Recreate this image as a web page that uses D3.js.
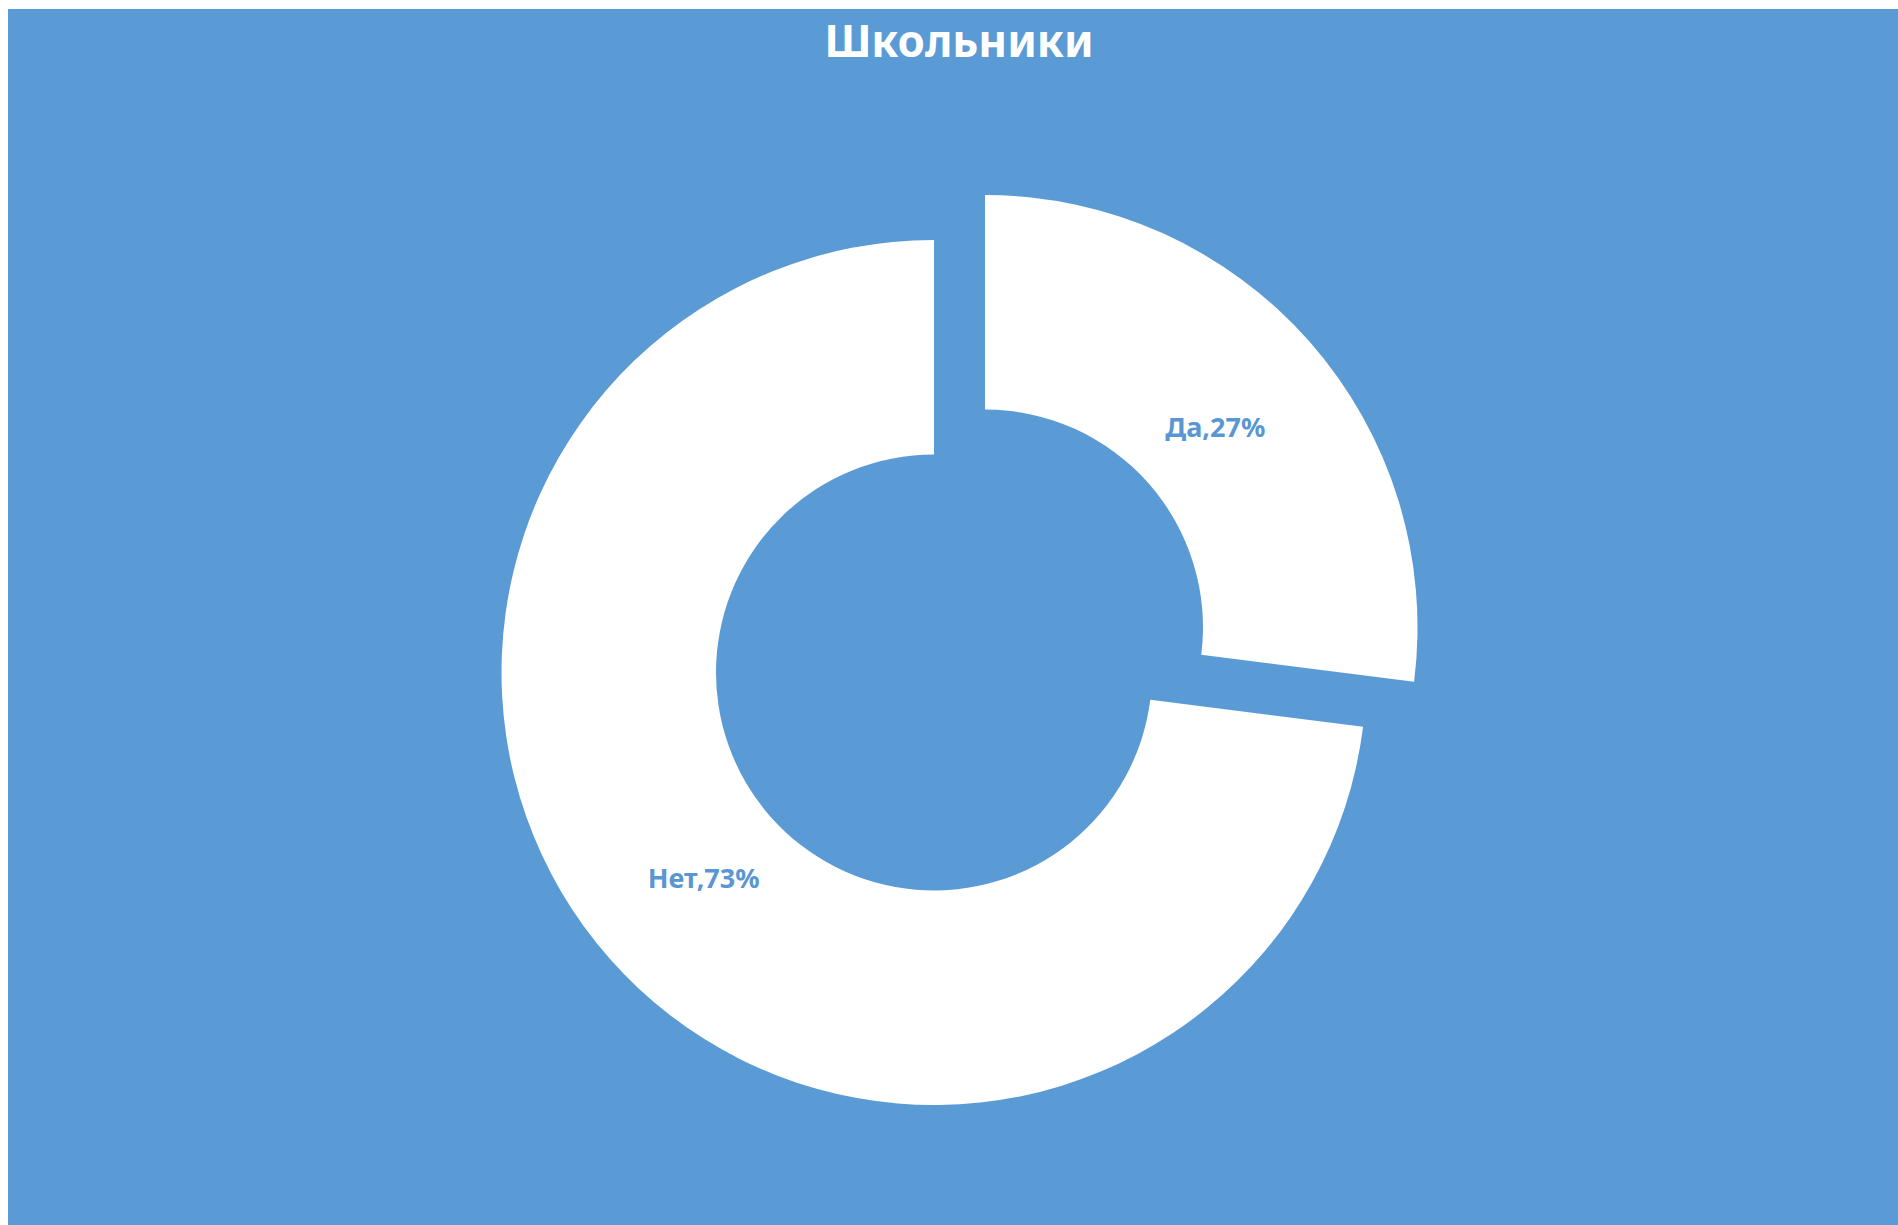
<!DOCTYPE html>
<html>
<head>
<meta charset="utf-8">
<script src="https://cdn.jsdelivr.net/npm/d3@7"></script>
<style>
  html, body { margin: 0; padding: 0; background: #ffffff; }
  svg { display: block; }
</style>
</head>
<body>
<script>
// Survey answers for schoolchildren
const categories = ["Да", "Нет"];
const shares = [27, 73];
const title = "Школьники";

const W = 1898, H = 1225;
const bg = "#5B9BD5";
const font = "'Noto Sans', 'Open Sans', sans-serif";

const svg = d3.select("body").append("svg")
  .attr("width", W).attr("height", H);

// chart panel
svg.append("rect")
  .attr("x", 8).attr("y", 9)
  .attr("width", W - 8).attr("height", H - 9)
  .attr("fill", bg);

svg.append("text")
  .attr("x", 959).attr("y", 57)
  .attr("text-anchor", "middle")
  .attr("font-family", font)
  .attr("font-weight", 700)
  .attr("font-size", 44)
  .attr("fill", "#ffffff")
  .text(title);

const cx = 934, cy = 672.5;
const outerR = 432.5, innerR = 218;
const explode = 68;

const data = categories.map((c, i) => ({ name: c, value: shares[i] }));

const pie = d3.pie().value(d => d.value).sort(null).startAngle(0);
const arcs = pie(data);

const arc = d3.arc().innerRadius(innerR).outerRadius(outerR);
const labelArc = d3.arc().innerRadius(307).outerRadius(307);

const g = svg.append("g").attr("transform", `translate(${cx},${cy})`);

const slices = g.selectAll("g.slice").data(arcs).enter().append("g")
  .attr("class", "slice")
  .attr("transform", d => {
    if (d.index !== 0) return null;
    const a = (d.startAngle + d.endAngle) / 2;
    return `translate(${explode * Math.sin(a)},${-explode * Math.cos(a)})`;
  });

slices.append("path")
  .attr("d", arc)
  .attr("fill", "#ffffff");

slices.append("text")
  .attr("transform", d => {
    const [x, y] = labelArc.centroid(d);
    return `translate(${x},${y + 3})`;
  })
  .attr("text-anchor", "middle")
  .attr("dy", "0.35em")
  .attr("font-family", font)
  .attr("font-weight", 700)
  .attr("font-size", 27)
  .attr("fill", "#5A96D2")
  .text(d => `${d.data.name},${d.data.value}%`);
</script>
</body>
</html>
